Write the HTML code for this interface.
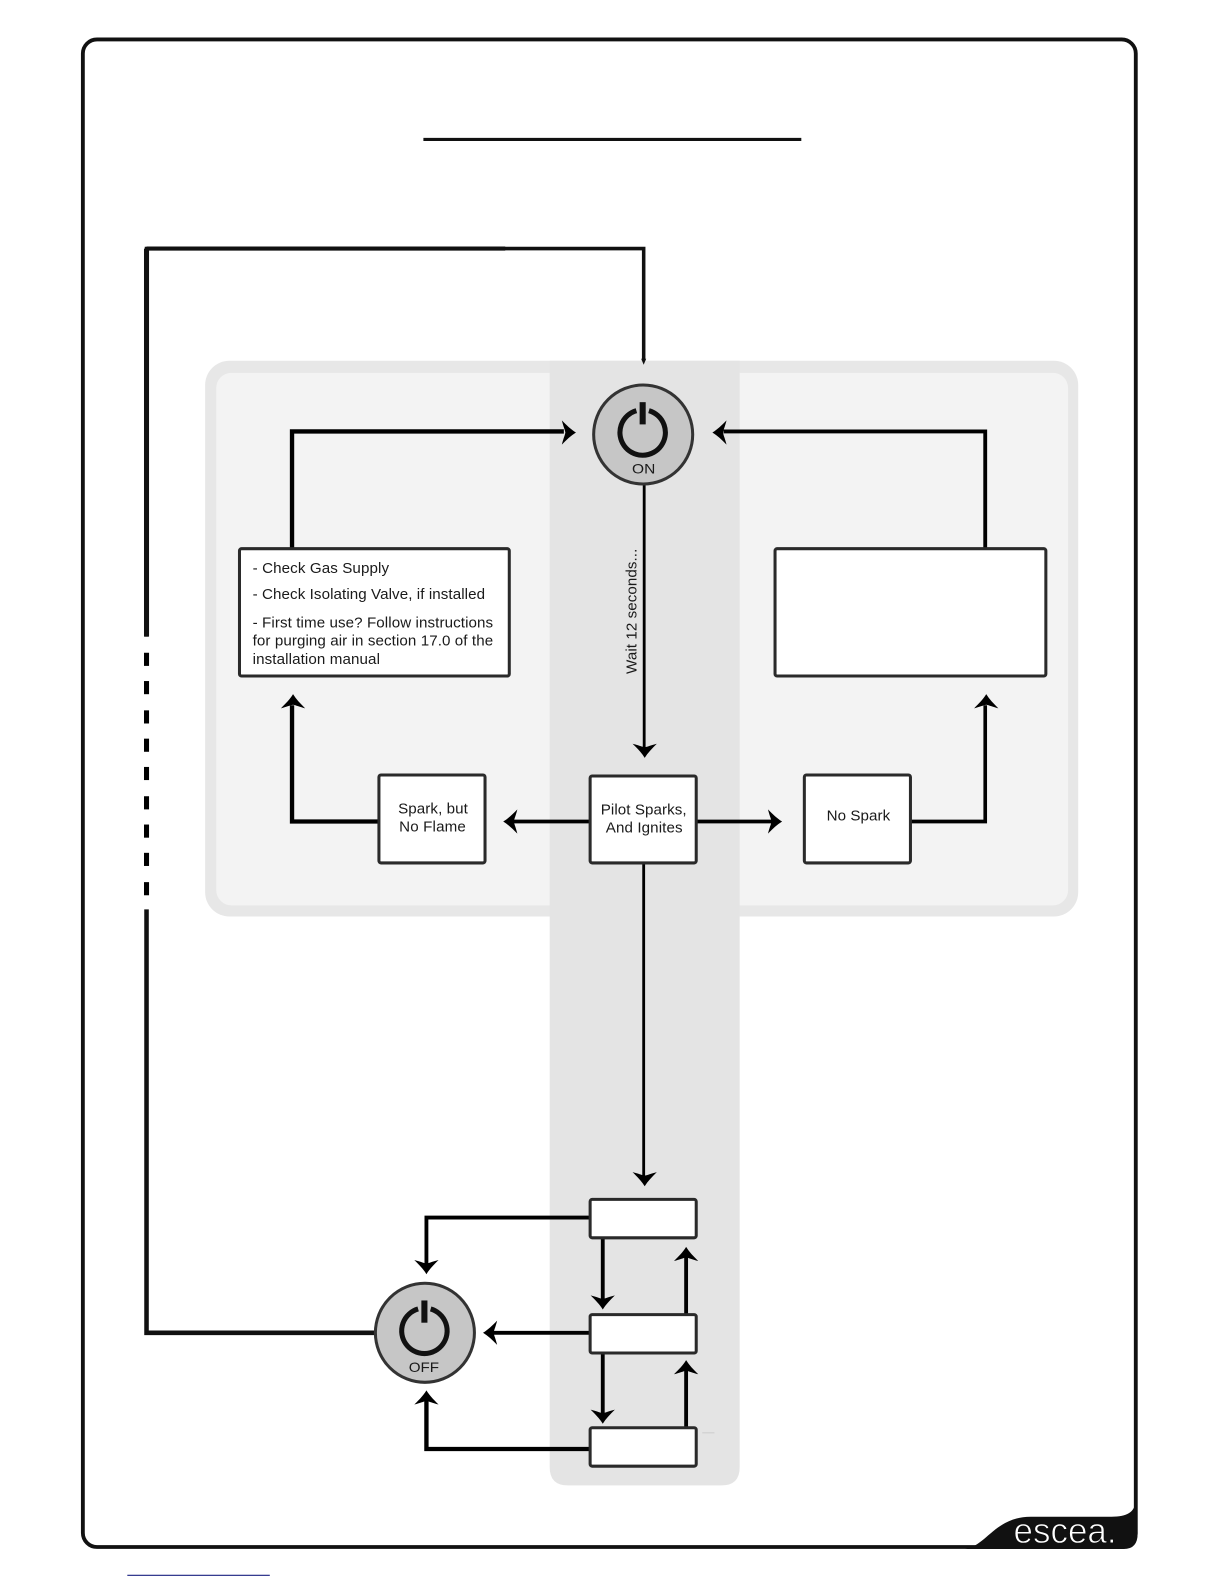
<!DOCTYPE html>
<html>
<head>
<meta charset="utf-8">
<style>
html,body{margin:0;padding:0;background:#fff;}
svg{display:block;width:1224px;height:1584px;}
text{font-family:"Liberation Sans",sans-serif;fill:#1a1a1a;}
</style>
</head>
<body>
<svg xmlns="http://www.w3.org/2000/svg" viewBox="0 0 1211.3 1567.6" preserveAspectRatio="none">
<defs>
<path id="a" d="M0,0 C-5,-3 -9,-7 -14,-12 C-12.500,-6 -11,-3 -10.500,0 C-11,3 -12.500,6 -14,12 C-9,7 -5,3 0,0 Z" fill="#000"/>
</defs>
<rect width="1211.3" height="1567.6" fill="#fff"/>

<!-- frame -->
<rect x="82" y="39" width="1042" height="1492" rx="14" ry="14" fill="none" stroke="#111" stroke-width="3.8"/>
<path d="M955 1533 C976 1530 985 1501 1020 1501 L1100 1501 C1115 1501 1123 1497 1124 1485 L1125.800 1518 Q1125.800 1533 1112 1533 Z" fill="#111"/>
<text x="1003" y="1527" font-size="36" textLength="102" lengthAdjust="spacingAndGlyphs" stroke="#111" stroke-width="0.9" paint-order="normal" style="fill:#fff">escea.</text>

<line x1="126" y1="1559" x2="267" y2="1559" stroke="#1a2080" stroke-width="1.2"/>
<line x1="419" y1="138" x2="793" y2="138" stroke="#111" stroke-width="3"/>

<!-- panels -->
<rect x="203" y="357" width="864" height="550" rx="24" fill="#e7e7e7"/>
<rect x="214" y="369" width="843" height="527" rx="15" fill="#f3f3f3"/>
<path d="M544 357 L732 357 L732 1452 Q732 1470 714 1470 L562 1470 Q544 1470 544 1452 Z" fill="#e4e4e4"/>

<!-- long loop -->
<path d="M637 357 L637 246 L145 246 L145 630" fill="none" stroke="#111" stroke-width="3.5"/>
<line x1="145" y1="246" x2="500" y2="246" stroke="#111" stroke-width="4"/>
<line x1="145" y1="246" x2="145" y2="630" stroke="#111" stroke-width="5"/>
<path d="M634.500 355 L637 361 L639.500 355 Z" fill="#111"/>
<g fill="#000">
<rect x="142.500" y="646" width="5" height="13"/>
<rect x="142.500" y="674" width="5" height="13"/>
<rect x="142.500" y="703" width="5" height="13"/>
<rect x="142.500" y="731" width="5" height="13"/>
<rect x="142.500" y="759" width="5" height="13"/>
<rect x="142.500" y="788" width="5" height="13"/>
<rect x="142.500" y="816" width="5" height="13"/>
<rect x="142.500" y="844" width="5" height="13"/>
<rect x="142.500" y="873" width="5" height="13"/>
</g>
<path d="M145 900 L145 1319 L372 1319" fill="none" stroke="#111" stroke-width="4.500"/>

<!-- connectors -->
<g fill="none" stroke="#000">
<path d="M637.500 480 L637.500 742" stroke-width="2.800"/>
<path d="M289 543 L289 427 L558 427" stroke-width="4.300"/>
<path d="M975 543 L975 427 L716 427" stroke-width="3.800"/>
<path d="M375 813 L289 813 L289 698" stroke-width="4.300"/>
<path d="M584 813 L508 813" stroke-width="3.800"/>
<path d="M689 813 L764 813" stroke-width="3.800"/>
<path d="M901 813 L975 813 L975 698" stroke-width="3.600"/>
<path d="M637 855 L637 1165" stroke-width="2.800"/>
<path d="M584 1205 L422 1205 L422 1251" stroke-width="3.800"/>
<path d="M584 1319 L488 1319" stroke-width="3.800"/>
<path d="M584 1434 L422 1434 L422 1386" stroke-width="4.300"/>
<path d="M596.500 1226 L596.500 1287" stroke-width="3.800"/>
<path d="M596.500 1339 L596.500 1400" stroke-width="3.800"/>
<path d="M679 1301 L679 1244" stroke-width="3.800"/>
<path d="M679 1413 L679 1356" stroke-width="3.800"/>
</g>
<use href="#a" transform="translate(570 428)"/>
<use href="#a" transform="translate(705 428) rotate(180)"/>
<use href="#a" transform="translate(638 750) rotate(90)"/>
<use href="#a" transform="translate(290 687) rotate(-90)"/>
<use href="#a" transform="translate(976 687) rotate(-90)"/>
<use href="#a" transform="translate(498 813) rotate(180)"/>
<use href="#a" transform="translate(774 813)"/>
<use href="#a" transform="translate(638 1174) rotate(90)"/>
<use href="#a" transform="translate(422 1261) rotate(90)"/>
<use href="#a" transform="translate(478 1319) rotate(180)"/>
<use href="#a" transform="translate(422 1376) rotate(-90)"/>
<use href="#a" transform="translate(596.500 1296) rotate(90)"/>
<use href="#a" transform="translate(596.500 1409) rotate(90)"/>
<use href="#a" transform="translate(679 1234) rotate(-90)"/>
<use href="#a" transform="translate(679 1346) rotate(-90)"/>

<!-- boxes -->
<g fill="#fff" stroke="#2a2a2a" stroke-width="3">
<rect x="237" y="543" width="267" height="126" rx="2"/>
<rect x="767" y="543" width="268" height="126" rx="2"/>
<rect x="375" y="767" width="105" height="87" rx="2"/>
<rect x="584" y="768" width="105" height="86" rx="2"/>
<rect x="796" y="767" width="105" height="87" rx="2"/>
<rect x="584" y="1187" width="105" height="38" rx="2"/>
<rect x="584" y="1301" width="105" height="38" rx="2"/>
<rect x="584" y="1413" width="105" height="38" rx="2"/>
</g>
<line x1="695" y1="1418" x2="707" y2="1418" stroke="#ccc" stroke-width="1"/>

<!-- power buttons -->
<circle cx="636.500" cy="430" r="49" fill="#c6c6c6" stroke="#333" stroke-width="3"/>
<path d="M642.200 406.400 A22.500 22.500 0 1 1 629.800 406.400" fill="none" stroke="#111" stroke-width="5"/>
<rect x="633" y="398" width="6" height="22" fill="#111"/>
<text x="637" y="468.500" font-size="14" text-anchor="middle" textLength="23" lengthAdjust="spacingAndGlyphs">ON</text>

<circle cx="420.500" cy="1319" r="49" fill="#c6c6c6" stroke="#333" stroke-width="3"/>
<path d="M426.200 1295.400 A22.500 22.500 0 1 1 413.800 1295.400" fill="none" stroke="#111" stroke-width="5"/>
<rect x="417" y="1287" width="6" height="22" fill="#111"/>
<text x="419.500" y="1358" font-size="14" text-anchor="middle" textLength="30" lengthAdjust="spacingAndGlyphs">OFF</text>

<!-- text -->
<text x="250" y="567" font-size="15" textLength="135">- Check Gas Supply</text>
<text x="250" y="593" font-size="15" textLength="230">- Check Isolating Valve, if installed</text>
<text x="250" y="621" font-size="15" textLength="238">- First time use? Follow instructions</text>
<text x="250" y="639" font-size="15" textLength="238">for purging air in section 17.0 of the</text>
<text x="250" y="657" font-size="15" textLength="126">installation manual</text>
<text x="428.500" y="805" font-size="15" text-anchor="middle" textLength="69">Spark, but</text>
<text x="428" y="823" font-size="15" text-anchor="middle" textLength="66">No Flame</text>
<text x="637" y="806" font-size="15" text-anchor="middle" textLength="85">Pilot Sparks,</text>
<text x="637.500" y="824" font-size="15" text-anchor="middle" textLength="76">And Ignites</text>
<text x="849.500" y="812" font-size="15" text-anchor="middle" textLength="63">No Spark</text>
<text transform="translate(630 605) rotate(-90)" font-size="15" text-anchor="middle" textLength="124">Wait 12 seconds...</text>
</svg>
</body>
</html>
